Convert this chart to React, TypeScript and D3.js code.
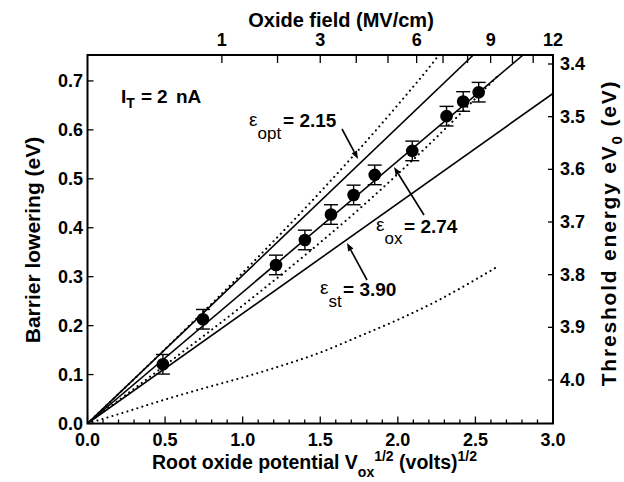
import React from "react";
import * as d3 from "d3";

// Measured barrier lowering vs. root oxide potential (I_T = 2 nA)
const rootPotential = [0.486, 0.744, 1.215, 1.401, 1.569, 1.715, 1.851, 2.093, 2.314, 2.421, 2.521];
const barrierLowering = [0.121, 0.213, 0.324, 0.375, 0.427, 0.467, 0.508, 0.557, 0.628, 0.658, 0.677];
const loweringError = [0.02, 0.02, 0.02, 0.02, 0.02, 0.02, 0.02, 0.02, 0.02, 0.02, 0.02];

// Image-force lines: slope = K / sqrt(epsilon)
const SCHOTTKY_K = 0.444;
const epsilonLabels = ["opt", "ox", "st"];
const epsilonValues = [2.15, 2.74, 3.9];

// Dotted calculated curves
const upperDottedX = [0, 0.5, 1.0, 1.5, 1.75, 2.0, 2.25, 2.3];
const upperDottedY = [0, 0.152, 0.308, 0.473, 0.56, 0.651, 0.747, 0.768];
const lowerDottedX = [0, 0.5, 1.0, 1.5, 1.75, 2.0, 2.25, 2.5, 2.65];
const lowerDottedY = [0, 0.119, 0.241, 0.37, 0.438, 0.51, 0.585, 0.664, 0.712];
const bottomDottedX = [0, 0.25, 0.5, 0.75, 1.0, 1.25, 1.5, 1.75, 2.0, 2.25, 2.5, 2.65];
const bottomDottedY = [0, 0.024, 0.049, 0.072, 0.094, 0.118, 0.145, 0.178, 0.212, 0.25, 0.294, 0.322];

// Axes
const bottomTicks = [0, 0.5, 1.0, 1.5, 2.0, 2.5, 3.0];
const leftTicks = [0, 0.1, 0.2, 0.3, 0.4, 0.5, 0.6, 0.7];
const rightTicks = [3.4, 3.5, 3.6, 3.7, 3.8, 3.9, 4.0];
const fieldTicks = [1, 2, 3, 4, 5, 6, 7, 8, 9, 10, 11, 12];
const fieldLabels = [1, 3, 6, 9, 12];
const OXIDE_VOLTS_PER_MVCM = 0.75; // 7.5 nm oxide

const FONT = "'Liberation Sans', Arial, Helvetica, sans-serif";

export default function App() {
  const W = 624;
  const H = 482;
  const left = 87.5, right = 553, top = 55, bottom = 423.5;

  const x = d3.scaleLinear().domain([0, 3]).range([left, right]);
  const y = d3.scaleLinear().domain([0, (bottom - top) / 489.4]).range([bottom, top]);
  const yR = d3.scaleLinear().domain([3.4, 4.0]).range([64, 380]);
  const yMax = y.domain()[1];

  const fieldToX = (e: number) => Math.sqrt(OXIDE_VOLTS_PER_MVCM * e);

  const lineEnd = (slope: number) => {
    const xe = Math.min(3, yMax / slope);
    return [xe, slope * xe];
  };

  const solidSlopes = epsilonValues.map((e) => SCHOTTKY_K / Math.sqrt(e));
  const minorTicks = d3.range(0, 31).map((i) => i / 10);

  const curve = (xs: number[], ys: number[]) =>
    d3
      .line<number>()
      .x((_, i) => x(xs[i]))
      .y((d) => y(d))
      .curve(d3.curveMonotoneX)(ys) || "";

  const dotStyle = {
    stroke: "#000",
    strokeWidth: 2.1,
    strokeDasharray: "0.01 5.2",
    strokeLinecap: "round" as const,
    fill: "none",
  };

  const arrow = (x1: number, y1: number, x2: number, y2: number) => {
    const ang = Math.atan2(y2 - y1, x2 - x1);
    const L = 8, Wd = 3;
    const bx = x2 - L * Math.cos(ang), by = y2 - L * Math.sin(ang);
    const px = -Math.sin(ang) * Wd, py = Math.cos(ang) * Wd;
    return (
      <g>
        <line x1={x1} y1={y1} x2={bx} y2={by} stroke="#000" strokeWidth={1.6} />
        <path d={`M${x2},${y2}L${bx + px},${by + py}L${bx - px},${by - py}Z`} fill="#000" />
      </g>
    );
  };

  const epsLabel = (i: number, ex: number, ey: number, vx: number, vy: number) => (
    <text x={ex} y={ey} fontSize={19}>
      ε
      <tspan dy={13} fontSize={17}>
        {epsilonLabels[i]}
      </tspan>
      <tspan x={vx} y={vy} fontWeight="bold">
        = {epsilonValues[i].toFixed(2)}
      </tspan>
    </text>
  );

  return (
    <svg width={W} height={H} style={{ position: "absolute", left: 0, top: 0, background: "#fff" }} fontFamily={FONT}>
      <rect x={0} y={0} width={W} height={H} fill="#fff" />
      <defs>
        <clipPath id="plot">
          <rect x={left} y={top} width={right - left} height={bottom - top} />
        </clipPath>
      </defs>

      <g clipPath="url(#plot)">
        <path d={curve(bottomDottedX, bottomDottedY)} {...dotStyle} />
        <path d={curve(lowerDottedX, lowerDottedY)} {...dotStyle} />
        <path d={curve(upperDottedX, upperDottedY)} {...dotStyle} />
        {solidSlopes.map((s, i) => {
          const [xe, ye] = lineEnd(s);
          return <line key={i} x1={x(0)} y1={y(0)} x2={x(xe)} y2={y(ye)} stroke="#000" strokeWidth={1.6} />;
        })}
      </g>

      {/* error bars and points */}
      {rootPotential.map((rv, i) => {
        const cx = x(rv);
        const y1 = y(barrierLowering[i] - loweringError[i]);
        const y2 = y(barrierLowering[i] + loweringError[i]);
        return (
          <g key={i}>
            <line x1={cx} x2={cx} y1={y1} y2={y2} stroke="#000" strokeWidth={1.4} />
            <line x1={cx - 7} x2={cx + 7} y1={y1} y2={y1} stroke="#000" strokeWidth={1.4} />
            <line x1={cx - 7} x2={cx + 7} y1={y2} y2={y2} stroke="#000" strokeWidth={1.4} />
            <circle cx={cx} cy={y(barrierLowering[i])} r={6.3} fill="#000" />
          </g>
        );
      })}

      {/* frame */}
      <rect x={left} y={top} width={right - left} height={bottom - top} fill="none" stroke="#000" strokeWidth={2} />

      {/* bottom ticks */}
      {minorTicks.map((t, i) => (
        <line key={i} x1={x(t)} x2={x(t)} y1={bottom} y2={bottom - (i % 5 === 0 ? 7 : 4)} stroke="#000" strokeWidth={1.3} />
      ))}
      {bottomTicks.map((t) => (
        <text key={t} x={x(t)} y={446} textAnchor="middle" fontSize={18} fontWeight="bold">
          {t.toFixed(1)}
        </text>
      ))}

      {/* left ticks */}
      {leftTicks.map((t) => (
        <g key={t}>
          <line x1={left} x2={left + 6} y1={y(t)} y2={y(t)} stroke="#000" strokeWidth={1.3} />
          <text x={83} y={y(t) + 6} textAnchor="end" fontSize={18} fontWeight="bold">
            {t.toFixed(1)}
          </text>
        </g>
      ))}

      {/* right ticks */}
      {rightTicks.map((t) => (
        <g key={t}>
          <line x1={right} x2={right - 5} y1={yR(t)} y2={yR(t)} stroke="#000" strokeWidth={1.3} />
          <text x={560} y={yR(t) + 6} textAnchor="start" fontSize={18} fontWeight="bold">
            {t.toFixed(1)}
          </text>
        </g>
      ))}

      {/* top ticks: oxide field */}
      {fieldTicks.map((e) => (
        <line key={e} x1={x(fieldToX(e))} x2={x(fieldToX(e))} y1={top} y2={top + 8} stroke="#000" strokeWidth={1.3} />
      ))}
      {fieldLabels.map((e) => (
        <text key={e} x={x(fieldToX(e))} y={46} textAnchor="middle" fontSize={18} fontWeight="bold">
          {e}
        </text>
      ))}

      {/* axis titles */}
      <text x={341} y={27} textAnchor="middle" fontSize={20} fontWeight="bold">
        Oxide field (MV/cm)
      </text>
      <text transform="translate(40,240) rotate(-90)" textAnchor="middle" fontSize={21} fontWeight="bold">
        Barrier lowering (eV)
      </text>
      <text transform="translate(616,233) rotate(-90)" textAnchor="middle" fontSize={21} fontWeight="bold" letterSpacing={1.8}>
        Threshold energy eV<tspan fontSize={15} dy={6}>0</tspan>
        <tspan dy={-6}> (eV)</tspan>
      </text>
      <text x={152} y={469} fontSize={19.5} fontWeight="bold">
        Root oxide potential V<tspan fontSize={14} dy={8}>ox</tspan>
        <tspan fontSize={14} dy={-16}>1/2</tspan>
        <tspan dy={8}> (volts)</tspan>
        <tspan fontSize={14} dy={-8}>1/2</tspan>
      </text>

      {/* annotations */}
      <text x={121} y={103} fontSize={19} fontWeight="bold">
        I<tspan fontSize={14} dy={5}>T</tspan>
        <tspan x={141} dy={-5}>=</tspan>
        <tspan x={157}>2</tspan>
        <tspan x={176}>nA</tspan>
      </text>

      {epsLabel(0, 249, 126, 283, 127)}
      {arrow(342, 129, 358, 159)}

      {epsLabel(1, 376, 231, 404, 232.5)}
      {arrow(424, 215, 394, 167)}

      {epsLabel(2, 320, 294, 343, 296)}
      {arrow(367, 280, 347, 243)}
    </svg>
  );
}
